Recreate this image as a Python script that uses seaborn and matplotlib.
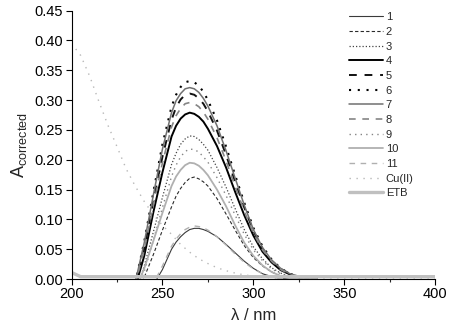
import numpy as np
import pandas as pd
import matplotlib
matplotlib.use("Agg")
import matplotlib.pyplot as plt
import seaborn as sns
from matplotlib.ticker import MultipleLocator

# ---- data ----
wl = [235, 240, 245, 250, 255, 257.5, 260, 262.5, 265, 267.5, 270, 272.5, 275,
      280, 285, 290, 295, 300, 305, 310, 315, 320, 325, 330, 335]

s1 = [-0.040, -0.025, -0.010, 0.016, 0.050, 0.062, 0.071, 0.078, 0.083, 0.085, 0.085,
      0.083, 0.080, 0.071, 0.058, 0.044, 0.030, 0.018, 0.009, 0.004, 0.001, 0.0, 0.0, 0.0, 0.0]
s2 = [-0.030, 0.003, 0.041, 0.082, 0.121, 0.139, 0.152, 0.162, 0.169, 0.171, 0.168,
      0.163, 0.156, 0.135, 0.109, 0.082, 0.056, 0.036, 0.022, 0.012, 0.005, 0.002, 0.001, 0.0, 0.0]
s3 = [-0.024, 0.022, 0.079, 0.137, 0.192, 0.211, 0.226, 0.235, 0.240, 0.239, 0.234,
      0.226, 0.216, 0.187, 0.154, 0.118, 0.083, 0.054, 0.034, 0.019, 0.010, 0.004, 0.002, 0.0, 0.0]
s4 = [-0.014, 0.039, 0.112, 0.179, 0.239, 0.257, 0.269, 0.276, 0.279, 0.277, 0.272,
      0.264, 0.252, 0.223, 0.187, 0.146, 0.107, 0.073, 0.046, 0.028, 0.015, 0.008, 0.003, 0.001, 0.0]
s5 = [-0.009, 0.051, 0.131, 0.205, 0.267, 0.288, 0.301, 0.309, 0.311, 0.309, 0.303,
      0.294, 0.281, 0.249, 0.208, 0.163, 0.120, 0.081, 0.051, 0.031, 0.017, 0.009, 0.004, 0.001, 0.0]
s6 = [-0.007, 0.063, 0.146, 0.226, 0.289, 0.309, 0.322, 0.330, 0.332, 0.330, 0.324,
      0.314, 0.300, 0.266, 0.222, 0.174, 0.128, 0.086, 0.055, 0.033, 0.018, 0.009, 0.004, 0.001, 0.0]
s7 = [-0.006, 0.061, 0.141, 0.218, 0.279, 0.299, 0.311, 0.319, 0.321, 0.319, 0.313,
      0.303, 0.290, 0.257, 0.215, 0.169, 0.124, 0.083, 0.053, 0.032, 0.018, 0.009, 0.004, 0.001, 0.0]
s8 = [-0.009, 0.049, 0.124, 0.195, 0.255, 0.274, 0.286, 0.294, 0.296, 0.294, 0.289,
      0.280, 0.268, 0.237, 0.198, 0.155, 0.114, 0.077, 0.049, 0.030, 0.016, 0.008, 0.004, 0.001, 0.0]
s9 = [-0.030, 0.013, 0.065, 0.120, 0.172, 0.191, 0.205, 0.214, 0.218, 0.217, 0.213,
      0.205, 0.196, 0.170, 0.140, 0.107, 0.075, 0.049, 0.031, 0.017, 0.009, 0.004, 0.002, 0.0, 0.0]
s10 = [-0.020, 0.018, 0.064, 0.111, 0.156, 0.172, 0.183, 0.191, 0.195, 0.194, 0.190,
       0.183, 0.174, 0.150, 0.122, 0.090, 0.061, 0.039, 0.023, 0.012, 0.005, 0.002, 0.0, 0.0, 0.0]
s11 = [-0.040, -0.025, -0.008, 0.022, 0.055, 0.067, 0.076, 0.083, 0.087, 0.089, 0.088,
       0.086, 0.082, 0.071, 0.057, 0.042, 0.028, 0.017, 0.009, 0.004, 0.001, 0.0, 0.0, 0.0, 0.0]

wl_full = list(range(200, 401, 5))
cu = [0.395, 0.375, 0.340, 0.298, 0.258, 0.222, 0.185, 0.156, 0.130, 0.108, 0.090,
      0.075, 0.058, 0.045, 0.034, 0.026, 0.019, 0.014, 0.010, 0.007, 0.005, 0.003,
      0.002, 0.001] + [0.0] * 17
etb = [0.011] + [0.004] * 40

labels = ["1", "2", "3", "4", "5", "6", "7", "8", "9", "10", "11", "Cu(II)", "ETB"]

# ---- style ----
sns.set_style("ticks")
plt.rcParams['font.family'] = ['Liberation Sans', 'DejaVu Sans']
plt.rcParams['mathtext.fontset'] = 'custom'
plt.rcParams['mathtext.rm'] = 'Liberation Sans'

fig = plt.figure(figsize=(4.5, 3.33), dpi=100)
ax = fig.add_axes([0.159, 0.162, 0.808, 0.806])

styles = [
    dict(color="#3a3a3a", lw=0.8, linestyle="-"),
    dict(color="#2a2a2a", lw=0.8, linestyle=(0, (3, 2))),
    dict(color="#444444", lw=0.9, linestyle=(0, (1, 1.6))),
    dict(color="#000000", lw=1.4, linestyle="-"),
    dict(color="#111111", lw=1.4, linestyle=(0, (4, 4))),
    dict(color="#000000", lw=1.5, linestyle=(0, (1, 3.2))),
    dict(color="#707070", lw=1.1, linestyle="-"),
    dict(color="#858585", lw=1.2, linestyle=(0, (4, 4))),
    dict(color="#858585", lw=1.0, linestyle=(0, (1, 3))),
    dict(color="#b0b0b0", lw=1.3, linestyle="-"),
    dict(color="#b0b0b0", lw=1.0, linestyle=(0, (4, 4))),
    dict(color="#b8b8b8", lw=1.0, linestyle=(0, (1, 4))),
    dict(color="#c0c0c0", lw=2.4, linestyle="-"),
]

series = [s1, s2, s3, s4, s5, s6, s7, s8, s9, s10, s11]
for lab, ys, st in zip(labels[:11], series, styles[:11]):
    sns.lineplot(x=wl, y=ys, ax=ax, label=lab, **st)
sns.lineplot(x=wl_full, y=cu, ax=ax, label=labels[11], **styles[11])
sns.lineplot(x=wl_full, y=etb, ax=ax, label=labels[12], **styles[12])

ax.set_xlim(200, 400)
ax.set_ylim(0, 0.45)
ax.xaxis.set_major_locator(MultipleLocator(50))
ax.xaxis.set_minor_locator(MultipleLocator(25))
ax.yaxis.set_major_locator(MultipleLocator(0.05))
ax.yaxis.set_major_formatter('{x:.2f}')
ax.tick_params(axis='both', which='major', length=4, width=0.8, labelsize=10.5, pad=2,
               colors='black')
ax.tick_params(axis='x', which='minor', length=2.5, width=0.8)
sns.despine(ax=ax)
for sp in ["left", "bottom"]:
    ax.spines[sp].set_color("black")
    ax.spines[sp].set_linewidth(0.8)

ax.set_xlabel("λ / nm", fontsize=12, labelpad=5)
ax.set_ylabel("A$_{\\mathregular{corrected}}$", fontsize=13, labelpad=4)

leg = ax.legend(loc="upper left", bbox_to_anchor=(0.776, 0.963),
                bbox_transform=fig.transFigure, frameon=False, fontsize=8,
                handlelength=3.0, handletextpad=0.3, labelspacing=0.42,
                borderpad=0, borderaxespad=0)

fig.savefig("out.png", dpi=100)
